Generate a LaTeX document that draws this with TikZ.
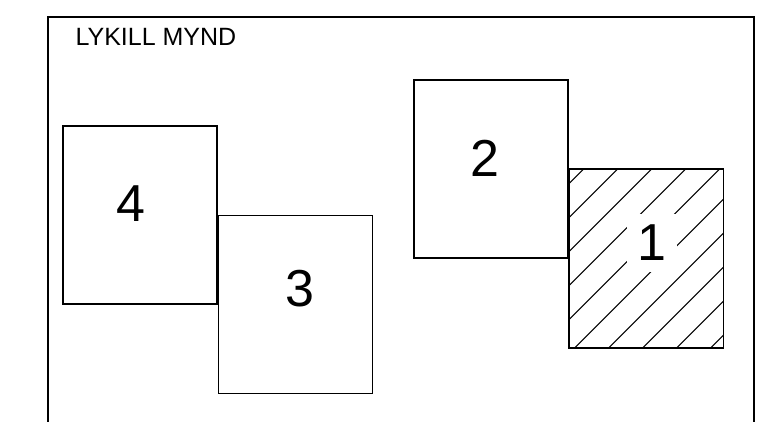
\documentclass[tikz,border=0pt]{standalone}
\usepackage{fontspec}
\setmainfont{Liberation Sans}
\usetikzlibrary{positioning, calc}

\begin{document}
\begin{tikzpicture}[
    x=1pt, y=-1pt,
    frame/.style={line width=1.2pt},
    sq/.style={rectangle, draw, line width=1.2pt, minimum width=154pt, minimum height=178pt, inner sep=0pt},
    num/.style={font=\fontsize{52}{52}\selectfont, inner sep=0pt},
    hatch/.style={line width=1pt}
  ]
  \useasboundingbox (0,0) rectangle (773,422);

  % frame, open at the bottom
  \draw[frame] (48,422) -- (48,17) -- (754,17) -- (754,422);
  \node[anchor=west, font=\fontsize{25}{25}\selectfont] (title) at (72,37) {LYKILL MYND};

  % left pair of squares
  \node[sq] (sq4) at (140,215) {};
  \node[sq, anchor=north west] (sq3) at (sq4.east) {};

  % right pair of squares
  \node[sq] (sq2) at (491,169) {};
  \node[sq, anchor=north west] (sq1) at (sq2.east) {};

  % hatching in square 1
  \begin{scope}
    \clip (sq1.north west) rectangle (sq1.south east);
    \foreach \k in {0,...,9}
      \draw[hatch] ($(sq1.north west)+(15+34*\k,0)$) -- ++(-200,200);
  \end{scope}
  \draw[frame] (sq1.north west) rectangle (sq1.south east);

  % numbers
  \node[num] (n4) at (131,204) {4};
  \node[num] (n3) at (300,289) {3};
  \node[num] (n2) at (485,158) {2};
  \node[num, fill=white, minimum width=50pt, minimum height=58pt] (n1) at (652,243) {1};
\end{tikzpicture}
\end{document}
